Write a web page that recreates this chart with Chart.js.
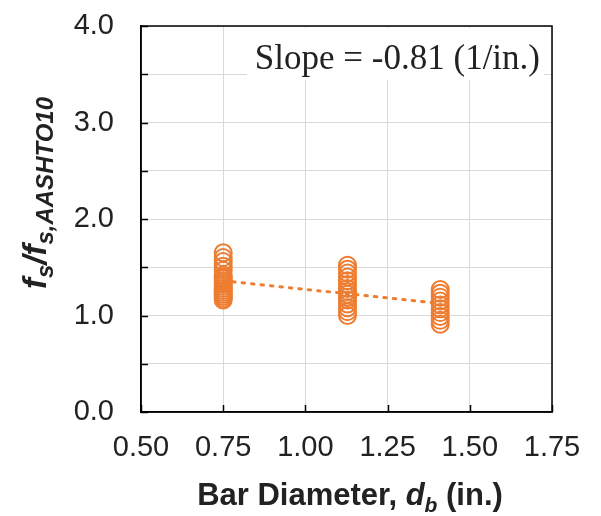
<!DOCTYPE html>
<html>
<head>
<meta charset="utf-8">
<script src="https://cdn.jsdelivr.net/npm/chart.js@4"></script>
<style>
  body { margin: 0; background: #fff; }
  canvas { display: block; }
</style>
</head>
<body>
<canvas id="chart" width="601" height="516"></canvas>
<script>
// Bar diameters (in.) for #6, #9 and #11 bars
const barDiameters = [0.75, 1.128, 1.41];

// Stress ratio fs / fs,AASHTO10 for each bar size
const ratioNo6 = [1.65, 1.60, 1.56, 1.51, 1.47, 1.42, 1.40, 1.38, 1.36, 1.34, 1.32, 1.30, 1.28, 1.26, 1.24, 1.22, 1.20, 1.18, 1.16];
const ratioNo9 = [1.52, 1.48, 1.44, 1.40, 1.36, 1.32, 1.28, 1.25, 1.22, 1.19, 1.16, 1.12, 1.08, 1.04, 1.00];
const ratioNo11 = [1.27, 1.23, 1.19, 1.15, 1.11, 1.07, 1.03, 0.99, 0.95, 0.91];

// Linear trend end points
const trendX = [0.75, 1.41];
const trendY = [1.36, 1.125];

const slopeText = 'Slope = -0.81 (1/in.)';

const ORANGE = '#ED7D31';
const TEXT = '#222222';
const GRID = '#d9d9d9';

const points = [];
[ratioNo6, ratioNo9, ratioNo11].forEach((list, i) => {
    list.forEach(v => points.push({ x: barDiameters[i], y: v }));
});

const trend = trendX.map((x, i) => ({ x: x, y: trendY[i] }));

// Short inward tick marks along the bottom and left axes
const innerTicks = {
    id: 'innerTicks',
    afterDatasetsDraw(chart) {
        const { ctx, chartArea: a, scales } = chart;
        ctx.save();
        ctx.strokeStyle = '#000';
        ctx.lineWidth = 1.5;
        ctx.beginPath();
        scales.x.ticks.forEach(t => {
            const px = Math.round(scales.x.getPixelForValue(t.value)) + 0.5;
            ctx.moveTo(px, a.bottom);
            ctx.lineTo(px, a.bottom - 7);
        });
        scales.y.ticks.forEach(t => {
            const py = Math.round(scales.y.getPixelForValue(t.value)) + 0.5;
            ctx.moveTo(a.left, py);
            ctx.lineTo(a.left + 7, py);
        });
        ctx.stroke();
        // frame round the plot area
        ctx.strokeRect(a.left, a.top, a.right - a.left, a.bottom - a.top);
        ctx.restore();
    }
};

// Slope note in a white box at the top right of the plot
const slopeNote = {
    id: 'slopeNote',
    beforeDatasetsDraw(chart) {
        const { ctx, chartArea: a } = chart;
        ctx.save();
        ctx.fillStyle = '#fff';
        ctx.fillRect(a.right - 305, a.top + 2, 297, 52);
        ctx.fillStyle = TEXT;
        ctx.font = '35px "Liberation Serif", "Times New Roman", serif';
        ctx.textAlign = 'right';
        ctx.textBaseline = 'alphabetic';
        ctx.fillText(slopeText, a.right - 12, a.top + 43);
        ctx.restore();
    }
};

// Draws a run of text pieces, some of them as subscripts
function drawPieces(ctx, pieces, x, y) {
    let total = 0;
    pieces.forEach(p => {
        ctx.font = p.font;
        p.w = ctx.measureText(p.text).width;
        total += p.w;
    });
    let cx = x - total / 2;
    pieces.forEach(p => {
        ctx.font = p.font;
        ctx.fillText(p.text, cx, y + (p.sub ? 7 : 0));
        cx += p.w;
    });
}

const axisTitles = {
    id: 'axisTitles',
    afterDraw(chart) {
        const { ctx } = chart;
        const fam = '"Liberation Sans", Arial, sans-serif';
        const big = 'bold 31px ' + fam;
        const bigIt = 'italic bold 31px ' + fam;
        const small = 'italic bold 21px ' + fam;
        ctx.save();
        ctx.fillStyle = TEXT;
        ctx.textAlign = 'left';
        ctx.textBaseline = 'alphabetic';

        drawPieces(ctx, [
            { text: 'Bar Diameter, ', font: big },
            { text: 'd', font: bigIt },
            { text: 'b', font: small, sub: true },
            { text: ' (in.)', font: big }
        ], 350, 505);

        const yBig = 'italic bold 33px ' + fam;
        const ySmall = 'italic bold 24px ' + fam;
        ctx.translate(46, 193);
        ctx.rotate(-Math.PI / 2);
        drawPieces(ctx, [
            { text: 'f', font: yBig },
            { text: 's', font: ySmall, sub: true },
            { text: '/f', font: yBig },
            { text: 's,AASHTO10', font: ySmall, sub: true }
        ], 0, 0);
        ctx.restore();
    }
};

new Chart(document.getElementById('chart'), {
    type: 'scatter',
    data: {
        datasets: [
            {
                label: 'Trend',
                type: 'line',
                data: trend,
                borderColor: ORANGE,
                borderWidth: 3,
                borderDash: [2.5, 7],
                borderCapStyle: 'round',
                pointRadius: 0,
                fill: false,
                order: 2
            },
            {
                label: 'Test data',
                data: points,
                borderColor: ORANGE,
                backgroundColor: 'rgba(0,0,0,0)',
                pointRadius: 8.5,
                pointBorderWidth: 2,
                pointStyle: 'circle',
                order: 1
            }
        ]
    },
    options: {
        responsive: false,
        animation: false,
        layout: { padding: { left: 0, top: 26, right: 49, bottom: 0 } },
        plugins: {
            legend: { display: false },
            tooltip: { enabled: false }
        },
        scales: {
            x: {
                type: 'linear',
                min: 0.5,
                max: 1.75,
                afterFit: scale => {
                    scale.height = 104;
                    scale.paddingLeft = 0;
                    scale.paddingRight = 0;
                },
                border: { color: '#000', width: 1.5 },
                grid: { color: GRID, lineWidth: 1, drawTicks: false },
                ticks: {
                    stepSize: 0.25,
                    padding: 19,
                    color: TEXT,
                    font: { family: '"Liberation Sans", Arial, sans-serif', size: 29 },
                    callback: v => v.toFixed(2)
                }
            },
            y: {
                min: 0,
                max: 4,
                afterFit: scale => {
                    scale.width = 141;
                    scale.paddingTop = 0;
                    scale.paddingBottom = 0;
                },
                border: { color: '#000', width: 1.5 },
                grid: { color: GRID, lineWidth: 1, drawTicks: false },
                ticks: {
                    stepSize: 0.5,
                    padding: 27,
                    color: TEXT,
                    font: { family: '"Liberation Sans", Arial, sans-serif', size: 29 },
                    callback: v => (Math.abs(v % 1) < 1e-9 ? v.toFixed(1) : '')
                }
            }
        }
    },
    plugins: [innerTicks, slopeNote, axisTitles]
});
</script>
</body>
</html>
